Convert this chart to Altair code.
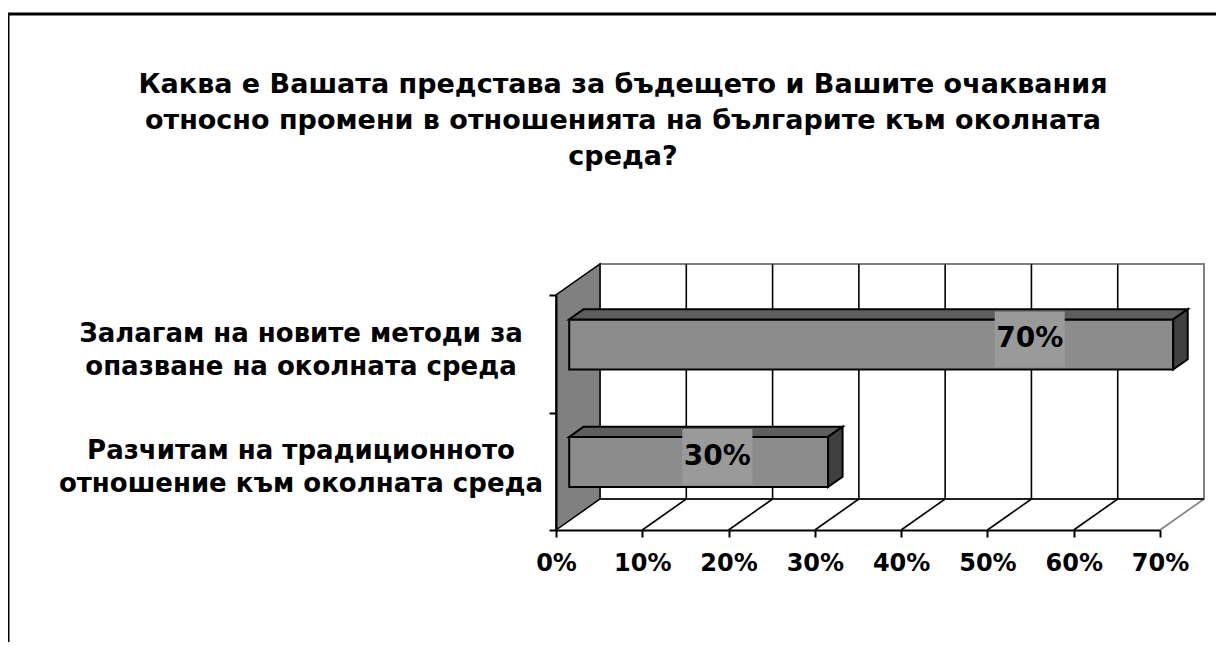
import altair as alt
import pandas as pd

# ---- data ----
title_lines = [
    "Каква е Вашата представа за бъдещето и Вашите очаквания",
    "относно промени в отношенията на българите към околната",
    "среда?",
]
categories = [
    "Залагам на новите методи за опазване на околната среда",
    "Разчитам на традиционното отношение към околната среда",
]
category_lines = [
    ["Залагам на новите методи за", "опазване на околната среда"],
    ["Разчитам на традиционното", "отношение към околната среда"],
]
values = [70, 30]
ticks = [0, 10, 20, 30, 40, 50, 60, 70]

# ---- 3D styling constants (in scale units) ----
DX, DY = 5.1, 0.264        # depth offset of the back wall
F1, F2 = 0.30, 0.63        # bar front / back depth fraction
HH = 0.213                 # half bar thickness
XMAX = 70
FONT = "DejaVu Sans"

n = len(categories)
bars = pd.DataFrame({
    "cat": categories,
    "label": ["\n".join(l) for l in category_lines],
    "value": values,
    "yc": [n - 1 - i + 0.5 for i in range(n)],
})
bars["txt"] = bars["value"].astype(str) + "%"

xs = alt.Scale(domain=[0, XMAX], nice=False, zero=False)
ys = alt.Scale(domain=[0, 2], nice=False, zero=False)
xaxis = alt.Axis(values=ticks, labelExpr="datum.value + '%'", title=None, grid=False,
                 domainColor="black", domainWidth=2, tickColor="black", tickWidth=2,
                 tickSize=7, labelFont=FONT, labelFontWeight="bold", labelFontSize=24,
                 labelColor="black", labelPadding=14, labelFlush=False, labelOverlap=False,
                 zindex=1)
yaxis = alt.Axis(values=[0, 1, 2], labels=False, title=None, grid=False,
                 domainColor="black", domainWidth=2, tickColor="black", tickWidth=2,
                 tickSize=7, zindex=1)

def X(f):
    return alt.X(f, type="quantitative", scale=xs, axis=xaxis)

def Y(f):
    return alt.Y(f, type="quantitative", scale=ys, axis=yaxis)

# back wall
wall_df = pd.DataFrame({"x": [DX], "x2": [XMAX + DX], "y": [DY], "y2": [2 + DY]})
back_wall = alt.Chart(wall_df).mark_rect(fill="white", stroke="#808080", strokeWidth=2).encode(
    x=X("x"), x2="x2", y=Y("y"), y2="y2")

# gridlines on back wall
grid_df = pd.DataFrame({"t": ticks[1:-1]})
grid = alt.Chart(grid_df).transform_calculate(
    gx=f"datum.t + {DX}", gy=f"{DY}", gy2=f"{2 + DY}"
).mark_rule(color="black", strokeWidth=1.6).encode(x=X("gx:Q"), y=Y("gy:Q"), y2="gy2:Q")

# floor diagonals
diag_df = pd.DataFrame({"t": ticks})
diag = alt.Chart(diag_df).transform_calculate(
    dx2=f"datum.t + {DX}", dy0="0", dy2=f"{DY}",
    col=f"datum.t == {XMAX} ? 'grey' : (datum.t == 0 ? 'white' : 'black')"
).mark_rule(strokeWidth=1.6).encode(
    x=X("t:Q"), x2="dx2:Q", y=Y("dy0:Q"), y2="dy2:Q",
    color=alt.Color("col:N", scale=alt.Scale(domain=["black", "grey", "white"],
                                             range=["black", "#808080", "#d0d0d0"]), legend=None))

# floor back line
fb_df = pd.DataFrame({"x": [DX], "x2": [XMAX + DX], "y": [DY]})
floor_back = alt.Chart(fb_df).mark_rule(color="black", strokeWidth=1.6).encode(
    x=X("x"), x2="x2", y=Y("y"))

# left side wall
side_df = pd.DataFrame({"x": [0, DX], "y": [0, DY], "y2": [2, 2 + DY]})
side_wall = alt.Chart(side_df).mark_area(fill="#808080", stroke="black", strokeWidth=1.5,
                                         opacity=1).encode(
    x=X("x"), y=Y("y"), y2="y2")

# bars: front face
front = alt.Chart(bars).transform_calculate(
    fx=f"{F1 * DX}", fx2=f"datum.value + {F1 * DX}",
    fy=f"datum.yc + {F1 * DY} - {HH}", fy2=f"datum.yc + {F1 * DY} + {HH}"
).mark_rect(fill="#8c8c8c", stroke="black", strokeWidth=2).encode(
    x=X("fx:Q"), x2="fx2:Q", y=Y("fy:Q"), y2="fy2:Q")

# bars: top face and right side face (two rows per bar)
top_rows = []
side_rows = []
for c, v, yc in zip(bars["cat"], bars["value"], bars["yc"]):
    for f in (F1, F2):
        top_rows.append({"cat": c, "y": yc + f * DY + HH, "x": f * DX, "x2": v + f * DX})
        side_rows.append({"cat": c, "x": v + f * DX, "y": yc + f * DY - HH, "y2": yc + f * DY + HH})
top = alt.Chart(pd.DataFrame(top_rows)).mark_area(
    orient="horizontal", fill="#5e5e5e", stroke="black", strokeWidth=2, opacity=1).encode(
    y=Y("y"), x=X("x"), x2="x2", detail="cat:N")
side = alt.Chart(pd.DataFrame(side_rows)).mark_area(
    orient="vertical", fill="#404040", stroke="black", strokeWidth=2, opacity=1).encode(
    x=X("x"), y=Y("y"), y2="y2", detail="cat:N")

# value labels with grey box
lab = alt.Chart(bars).transform_calculate(
    lx="0.905 * datum.value - 8.45",
    bx="datum.lx - 4.06", bx2="datum.lx + 4.06",
    ly=f"datum.yc + {F1 * DY} + 0.043",
    by="datum.ly - 0.238", by2="datum.ly + 0.238",
)
lab_box = lab.mark_rect(fill="#9a9a9a").encode(x=X("bx:Q"), x2="bx2:Q", y=Y("by:Q"), y2="by2:Q")
lab_txt = lab.mark_text(font=FONT, fontWeight="bold", fontSize=28, color="black",
                        baseline="middle", align="center").encode(
    x=X("lx:Q"), y=Y("ly:Q"), text="txt:N")

# category labels
cat_txt = alt.Chart(bars).transform_calculate(zero="0").mark_text(
    font=FONT, fontWeight="bold", fontSize=26, color="black", lineBreak="\n",
    lineHeight=33, align="center", baseline="middle", dx=-255, dy=-20).encode(
    x=X("zero:Q"), y=Y("yc:Q"), text="label:N")

# title
title = alt.Chart(pd.DataFrame({"t": ["\n".join(title_lines)]})).mark_text(
    font=FONT, fontWeight="bold", fontSize=27, color="black", lineBreak="\n",
    lineHeight=36, align="center", baseline="middle").encode(
    x=alt.value(67), y=alt.value(-210), text="t:N")

# outer frame (left and top edges)
frame_l = alt.Chart(pd.DataFrame({"a": [0]})).mark_rule(color="black", strokeWidth=3).encode(
    x=alt.value(-548), y=alt.value(-282), y2=alt.value(400))
frame_t = alt.Chart(pd.DataFrame({"a": [0]})).mark_rule(color="black", strokeWidth=3).encode(
    y=alt.value(-281), x=alt.value(-549), x2=alt.value(700))

chart = alt.layer(
    back_wall, grid, diag, floor_back, side_wall, front, top, side,
    lab_box, lab_txt, cat_txt, title, frame_l, frame_t
).properties(
    width=604, height=235,
    padding={"left": 548, "top": 287, "right": 56, "bottom": 112},
    autosize=alt.AutoSizeParams(type="none"),
    background="white",
).configure_view(stroke=None)

chart.save("out.html", embed_options={"renderer": "svg", "actions": False})
